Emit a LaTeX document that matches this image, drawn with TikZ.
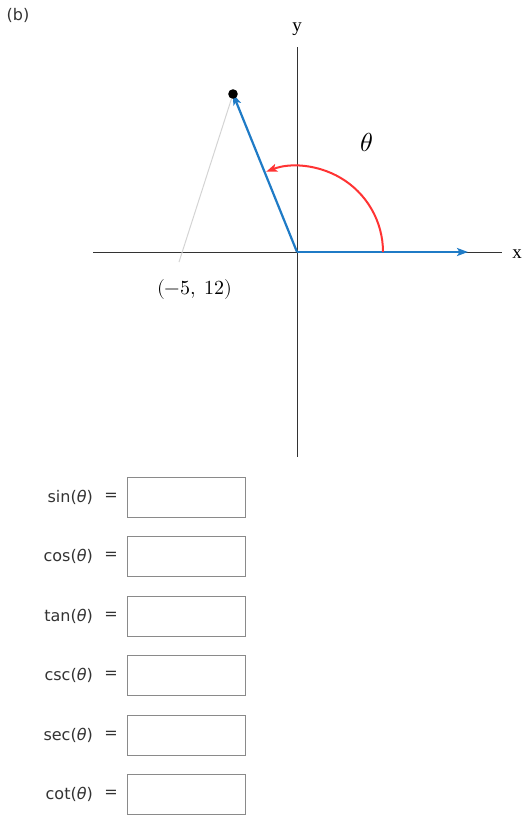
\documentclass[tikz,border=0pt]{standalone}
\usepackage{fontspec}
\setsansfont{DejaVu Sans}
\newfontfamily\axisfont{Liberation Serif}
\usepackage{unicode-math}
\usetikzlibrary{arrows.meta}
\definecolor{vecblue}{HTML}{1F7BC6}
\definecolor{arcred}{HTML}{FF3333}
\definecolor{axisgray}{HTML}{333333}
\definecolor{boxgray}{HTML}{8A8A8A}
\definecolor{lightln}{HTML}{D4D4D4}
\definecolor{labelgray}{HTML}{333333}
\tikzset{
  axisline/.style={draw=axisgray, line width=1pt},
  vecline/.style={draw=vecblue, line width=2.2pt, -{Stealth[length=11pt,width=8pt,inset=2.5pt]}},
  arcline/.style={draw=arcred, line width=2pt, -{Stealth[length=11pt,width=8pt,inset=2.5pt]}},
  answerbox/.style={draw=boxgray, line width=1pt, minimum width=118pt, minimum height=40pt, inner sep=0pt},
  funlabel/.style={anchor=east, inner sep=0pt, text=labelgray, font=\sffamily\fontsize{16}{19}\selectfont},
  eqlabel/.style={anchor=center, inner sep=0pt, text=labelgray, font=\sffamily\fontsize{16}{19}\selectfont},
  axislabel/.style={inner sep=0pt, font=\axisfont\fontsize{19}{22}\selectfont},
  mathlabel/.style={inner sep=0pt, font=\fontsize{20}{24}\selectfont}
}
\begin{document}
\begin{tikzpicture}[x=1pt, y=-1pt]
\useasboundingbox (0,0) rectangle (526,820);
\node[inner sep=0pt, text=labelgray, font=\sffamily\fontsize{16}{19}\selectfont] (b) at (18,15) {(b)};
% axes
\coordinate (O) at (297,252);
\coordinate (xl) at (93,252);
\coordinate (xr) at (502,252);
\coordinate (yt) at (297,47);
\coordinate (yb) at (297,457);
\draw[axisline] (xl) -- (xr);
\draw[axisline] (yt) -- (yb);
\node[axislabel] (xlab) at (517,254) {x};
\node[axislabel] (ylab) at (297,29) {y};
% point and lines
\coordinate (P) at (233,94);
\coordinate (G) at (179,262);
\draw[draw=lightln, line width=1pt] (P) -- (G);
\draw[vecline] (O) -- (P);
\fill[black] (P) circle[radius=4.8];
\coordinate (Xv) at (468,252);
\draw[vecline] (O) -- (Xv);
% angle
\draw[arcline] (383,252) arc[start angle=0, end angle=-111, radius=86];
\node[inner sep=0pt, font=\fontsize{26}{30}\selectfont] (theta) at (367,142) {$\theta$};
\node[mathlabel] (pt) at (195,289) {$(-5,\;12)$};
% answer boxes
\foreach \name/\yy in {sin/497, cos/556, tan/616, csc/675, sec/735, cot/794} {
  \node[funlabel] (\name lab) at (93,\yy) {\name({\itshape θ})};
  \node[eqlabel] (\name eq) at (111,\yy) {=};
  \node[answerbox] (\name box) at (186,\yy) {};
}
\end{tikzpicture}
\end{document}
